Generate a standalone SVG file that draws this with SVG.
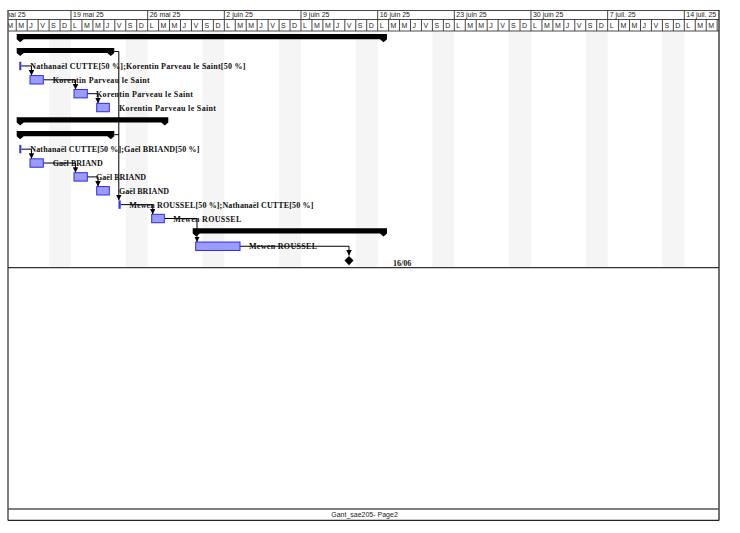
<svg xmlns="http://www.w3.org/2000/svg" width="740" height="533" viewBox="0 0 740 533">
  <defs>
    <clipPath id="hdrClip"><rect x="8" y="9" width="711" height="23"/></clipPath>
    <marker id="arr" viewBox="0 0 6 6" refX="6" refY="3" markerWidth="5.5" markerHeight="5.5" markerUnits="userSpaceOnUse" orient="auto">
      <path d="M0,0 L6,3 L0,6 Z" fill="#000"/>
    </marker>
  </defs>
  <style>
    .hdr { font-family: "Liberation Sans", Arial, sans-serif; font-size: 7px; fill: #222; }
    .grid { stroke: #333; stroke-width: 0.9; fill: none; }
    .wkend { fill: #f5f5f5; }
    .sum { fill: #000; }
    .task { fill: #9c9cff; stroke: #2b2bf5; stroke-width: 1; }
    .thin { fill: #3030ff; }
    .lbl { font-family: "Liberation Serif", "Times New Roman", serif; font-size: 8px; font-weight: bold; fill: #111; }
    .link { stroke: #000; stroke-width: 1; fill: none; marker-end: url(#arr); }
    .link0 { stroke: #000; stroke-width: 1; fill: none; }
    .foot { font-family: "Liberation Sans", Arial, sans-serif; font-size: 7px; fill: #222; }
  </style>

  <rect x="0" y="0" width="740" height="533" fill="#fff"/>

  <!-- weekend shading (Saturday + Sunday columns) -->
  <g id="weekends">
    <rect class="wkend" x="49.1" y="31.5" width="21.9" height="236"/>
    <rect class="wkend" x="125.76" y="31.5" width="21.9" height="236"/>
    <rect class="wkend" x="202.42" y="31.5" width="21.9" height="236"/>
    <rect class="wkend" x="279.09" y="31.5" width="21.9" height="236"/>
    <rect class="wkend" x="355.75" y="31.5" width="21.9" height="236"/>
    <rect class="wkend" x="432.42" y="31.5" width="21.9" height="236"/>
    <rect class="wkend" x="509.08" y="31.5" width="21.9" height="236"/>
    <rect class="wkend" x="585.74" y="31.5" width="21.9" height="236"/>
    <rect class="wkend" x="662.41" y="31.5" width="21.9" height="236"/>
  </g>

  <!-- timescale header -->
  <g id="timescale" clip-path="url(#hdrClip)">
    <path class="grid" d="M8,10.5 H719 M8,19.5 H719 M8,31 H719"/>
    <!-- week separators (upper tier) -->
    <path class="grid" d="M-5.67,10.5 V19.5 M71,10.5 V19.5 M147.66,10.5 V19.5 M224.33,10.5 V19.5 M300.99,10.5 V19.5 M377.66,10.5 V19.5 M454.32,10.5 V19.5 M530.98,10.5 V19.5 M607.65,10.5 V19.5 M684.31,10.5 V19.5"/>
    <!-- day separators (lower tier) -->
    <path class="grid" d="M5.29,19.5V31 M16.24,19.5V31 M27.19,19.5V31 M38.14,19.5V31 M49.1,19.5V31 M60.05,19.5V31 M71,19.5V31 M81.95,19.5V31 M92.9,19.5V31 M103.86,19.5V31 M114.81,19.5V31 M125.76,19.5V31 M136.71,19.5V31 M147.66,19.5V31 M158.62,19.5V31 M169.57,19.5V31 M180.52,19.5V31 M191.47,19.5V31 M202.42,19.5V31 M213.38,19.5V31 M224.33,19.5V31 M235.28,19.5V31 M246.23,19.5V31 M257.18,19.5V31 M268.14,19.5V31 M279.09,19.5V31 M290.04,19.5V31 M300.99,19.5V31 M311.94,19.5V31 M322.9,19.5V31 M333.85,19.5V31 M344.8,19.5V31 M355.75,19.5V31 M366.7,19.5V31 M377.66,19.5V31 M388.61,19.5V31 M399.56,19.5V31 M410.51,19.5V31 M421.46,19.5V31 M432.42,19.5V31 M443.37,19.5V31 M454.32,19.5V31 M465.27,19.5V31 M476.22,19.5V31 M487.18,19.5V31 M498.13,19.5V31 M509.08,19.5V31 M520.03,19.5V31 M530.98,19.5V31 M541.94,19.5V31 M552.89,19.5V31 M563.84,19.5V31 M574.79,19.5V31 M585.74,19.5V31 M596.7,19.5V31 M607.65,19.5V31 M618.6,19.5V31 M629.55,19.5V31 M640.5,19.5V31 M651.46,19.5V31 M662.41,19.5V31 M673.36,19.5V31 M684.31,19.5V31 M695.26,19.5V31 M706.22,19.5V31 M717.17,19.5V31"/>
    <text class="hdr" y="17.3" x="-5.2">12 mai 25</text>
    <text class="hdr" y="17.3" x="73">19 mai 25</text>
    <text class="hdr" y="17.3" x="149.66">26 mai 25</text>
    <text class="hdr" y="17.3" x="226.33">2 juin 25</text>
    <text class="hdr" y="17.3" x="302.99">9 juin 25</text>
    <text class="hdr" y="17.3" x="379.66">16 juin 25</text>
    <text class="hdr" y="17.3" x="456.32">23 juin 25</text>
    <text class="hdr" y="17.3" x="532.98">30 juin 25</text>
    <text class="hdr" y="17.3" x="609.65">7 juil. 25</text>
    <text class="hdr" y="17.3" x="686.31">14 juil. 25</text>
    <text class="hdr" y="27.6" x="7.29 18.24 29.19 40.14 51.1 62.05 73 83.95 94.9 105.86 116.81 127.76 138.71 149.66 160.62 171.57 182.52 193.47 204.42 215.38 226.33 237.28 248.23 259.18 270.14 281.09 292.04 302.99 313.94 324.9 335.85 346.8 357.75 368.7 379.66 390.61 401.56 412.51 423.46 434.42 445.37 456.32 467.27 478.22 489.18 500.13 511.08 522.03 532.98 543.94 554.89 565.84 576.79 587.74 598.7 609.65 620.6 631.55 642.5 653.46 664.41 675.36 686.31 697.26 708.22 719.17">MMJVSDLMMJVSDLMMJVSDLMMJVSDLMMJVSDLMMJVSDLMMJVSDLMMJVSDLMMJVSDLMMJ</text>
  </g>

  <!-- dependency links -->
  <g id="connectors">
    <path class="link" d="M21.3,65.94 H31.5 V75.6"/>
    <path class="link" d="M43.3,79.81 H75.5 V89.5"/>
    <path class="link" d="M87.3,93.68 H98 V103.35"/>
    <path class="link" d="M114.3,51.5 H118.8 V200.4"/>
    <path class="link0" d="M114.3,134.7 H118.8"/>
    <path class="link" d="M21.3,149.16 H31.5 V158.8"/>
    <path class="link" d="M43.3,163.03 H75.5 V172.7"/>
    <path class="link" d="M87.3,176.9 H98 V186.6"/>
    <path class="link" d="M120.7,204.64 H152.7 V214.3"/>
    <path class="link" d="M164.3,218.51 H197 V242.05"/>
    <path class="link" d="M240,246.25 H349 V255.6"/>
  </g>

  <!-- summary rows -->
  <g id="sum-projet">
    <path class="sum" d="M16.7,34 H387 V39.2 L383.5,42.2 L380,39.2 H23.7 L20.2,42.2 L16.7,39.2 Z"/>
  </g>
  <g id="sum-phase1">
    <path class="sum" d="M16.7,47.9 H114.3 V53.07 L110.8,56.07 L107.3,53.07 H23.7 L20.2,56.07 L16.7,53.07 Z"/>
  </g>
  <g id="task-r3">
    <rect class="thin" x="19.3" y="61.74" width="2" height="8.4"/>
    <text class="lbl" x="30.3" y="68.94" textLength="215">Nathanaël CUTTE[50 %];Korentin Parveau le Saint[50 %]</text>
  </g>
  <g id="task-r4">
    <rect class="task" x="30" y="75.61" width="13.3" height="8.4"/>
    <text class="lbl" x="52.7" y="82.81" textLength="97">Korentin Parveau le Saint</text>
  </g>
  <g id="task-r5">
    <rect class="task" x="74" y="89.48" width="13.3" height="8.4"/>
    <text class="lbl" x="96" y="96.68" textLength="97">Korentin Parveau le Saint</text>
  </g>
  <g id="task-r6">
    <rect class="task" x="96.7" y="103.35" width="12.6" height="8.4"/>
    <text class="lbl" x="119" y="110.55" textLength="97">Korentin Parveau le Saint</text>
  </g>
  <g id="sum-phase2">
    <path class="sum" d="M16.7,117.25 H168.3 V122.42 L164.8,125.42 L161.3,122.42 H23.7 L20.2,125.42 L16.7,122.42 Z"/>
  </g>
  <g id="sum-phase2a">
    <path class="sum" d="M16.7,131.1 H114.3 V136.29 L110.8,139.29 L107.3,136.29 H23.7 L20.2,139.29 L16.7,136.29 Z"/>
  </g>
  <g id="task-r9">
    <rect class="thin" x="19.3" y="144.96" width="2" height="8.4"/>
    <text class="lbl" x="30.3" y="152.16" textLength="169">Nathanaël CUTTE[50 %];Gaël BRIAND[50 %]</text>
  </g>
  <g id="task-r10">
    <rect class="task" x="30" y="158.83" width="13.3" height="8.4"/>
    <text class="lbl" x="52.7" y="166.03" textLength="50">Gaël BRIAND</text>
  </g>
  <g id="task-r11">
    <rect class="task" x="74" y="172.7" width="13.3" height="8.4"/>
    <text class="lbl" x="96" y="179.9" textLength="50">Gaël BRIAND</text>
  </g>
  <g id="task-r12">
    <rect class="task" x="96.7" y="186.57" width="12.6" height="8.4"/>
    <text class="lbl" x="119" y="193.77" textLength="50">Gaël BRIAND</text>
  </g>
  <g id="task-r13">
    <rect class="thin" x="118.5" y="200.44" width="2.2" height="8.4"/>
    <text class="lbl" x="129.3" y="207.64" textLength="184">Mewen ROUSSEL[50 %];Nathanaël CUTTE[50 %]</text>
  </g>
  <g id="task-r14">
    <rect class="task" x="151.7" y="214.31" width="12.6" height="8.4"/>
    <text class="lbl" x="173.3" y="221.51" textLength="68">Mewen ROUSSEL</text>
  </g>
  <g id="sum-phase3">
    <path class="sum" d="M192.7,228.2 H387 V233.38 L383.5,236.38 L380,233.38 H199.7 L196.2,236.38 L192.7,233.38 Z"/>
  </g>
  <g id="task-r16">
    <rect class="task" x="195.7" y="242.05" width="44.3" height="8.4"/>
    <text class="lbl" x="249" y="249.25" textLength="68">Mewen ROUSSEL</text>
  </g>
  <g id="milestone-end">
    <path d="M349,256 L353.5,260.6 L349,265.2 L344.5,260.6 Z" fill="#000"/>
    <text class="lbl" x="393" y="266.3">16/06</text>
  </g>

  <!-- page frame and footer -->
  <g id="frame">
    <path d="M8,10 V520.5" stroke="#555" stroke-width="1.5" fill="none"/>
    <path d="M719,10 V520.5" stroke="#111" stroke-width="1.2" fill="none"/>
    <path d="M8,267.6 H719" stroke="#333" stroke-width="1.2" fill="none"/>
    <path d="M8,509 H719" stroke="#555" stroke-width="1.5" fill="none"/>
    <path d="M8,520.3 H719" stroke="#222" stroke-width="1.2" fill="none"/>
    <text class="foot" x="364.5" y="517.2" text-anchor="middle">Gant_sae205- Page2</text>
  </g>
</svg>
